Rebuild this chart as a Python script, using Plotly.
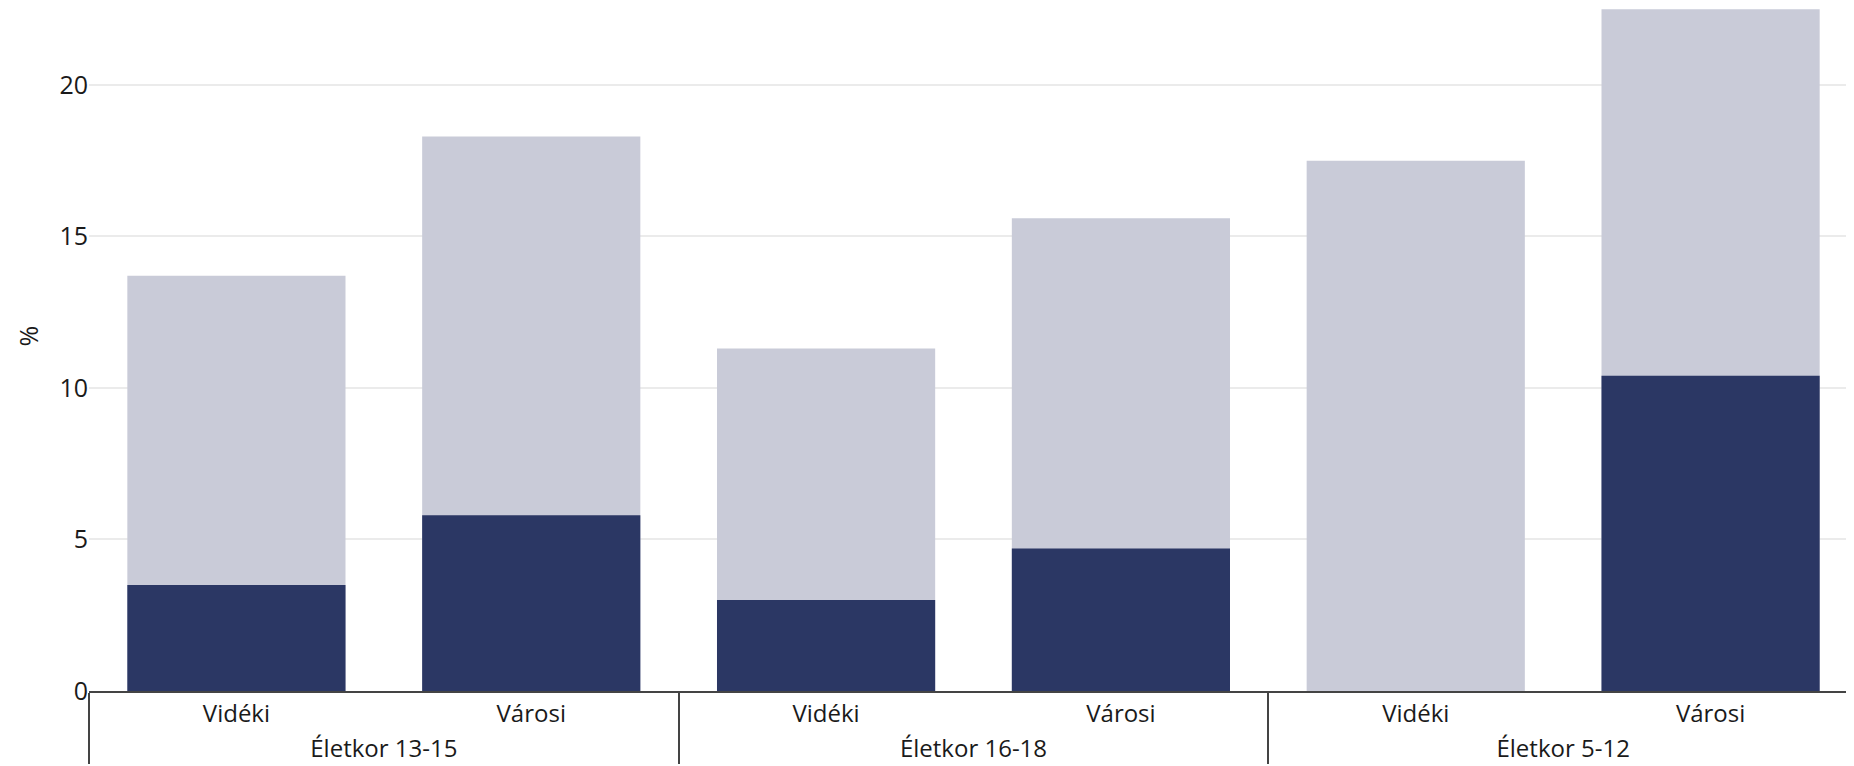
import plotly.graph_objects as go

groups = ["Életkor 13-15", "Életkor 13-15", "Életkor 16-18", "Életkor 16-18", "Életkor 5-12", "Életkor 5-12"]
subcats = ["Vidéki", "Városi", "Vidéki", "Városi", "Vidéki", "Városi"]
total_values = [13.7, 18.3, 11.3, 15.6, 17.5, 22.5]
part_values = [3.5, 5.8, 3.0, 4.7, 0.0, 10.4]
y_ticks = [0, 5, 10, 15, 20]

FONT = "Open Sans"
FS = 25

fig = go.Figure()
fig.add_trace(go.Bar(
    x=[groups, subcats], y=total_values,
    marker=dict(color="#c9cbd8", line=dict(width=0)),
    name="Összes", showlegend=False,
))
fig.add_trace(go.Bar(
    x=[groups, subcats], y=part_values,
    marker=dict(color="#2b3764", line=dict(width=0)),
    name="Rész", showlegend=False,
))

fig.update_layout(
    width=1854, height=758,
    barmode="overlay",
    bargap=0.26,
    plot_bgcolor="white", paper_bgcolor="white",
    margin=dict(l=81, r=4, t=0, b=75),
    font=dict(family=FONT, size=FS, color="#1a1a1a"),
    annotations=[dict(
        text="%", xref="paper", yref="paper", x=-0.0347, y=0.52,
        xanchor="center", yanchor="middle", textangle=-90,
        showarrow=False, borderpad=0, font=dict(size=FS, color="#1a1a1a"),
    )],
)
fig.update_xaxes(
    type="multicategory",
    automargin=False,
    showline=True, linecolor="#444444", linewidth=1.5,
    showdividers=True, dividercolor="#444444", dividerwidth=1.5,
    tickfont=dict(size=24, color="#1a1a1a"),
    showgrid=False,
)
fig.update_yaxes(
    range=[0, 22.54],
    automargin=False,
    tickvals=y_ticks,
    showgrid=True, gridcolor="#ebebeb", gridwidth=1.5,
    zeroline=False,
    tickfont=dict(size=FS, color="#1a1a1a"),
)

fig.write_html("out.html")
